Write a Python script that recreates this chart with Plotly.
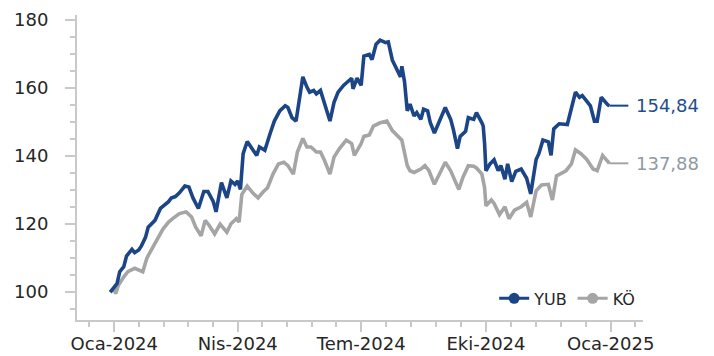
import plotly.graph_objects as go
import pandas as pd

# ---------------- data ----------------
yub_dates = [
    "2023-12-29", "2024-01-02", "2024-01-03", "2024-01-05", "2024-01-08", "2024-01-10",
    "2024-01-14", "2024-01-16", "2024-01-19", "2024-01-21", "2024-01-24", "2024-01-26",
    "2024-01-29", "2024-01-31", "2024-02-04", "2024-02-07", "2024-02-10", "2024-02-12",
    "2024-02-15", "2024-02-18", "2024-02-22", "2024-02-25", "2024-02-28", "2024-03-03",
    "2024-03-07", "2024-03-10", "2024-03-14", "2024-03-16", "2024-03-20", "2024-03-24",
    "2024-03-27", "2024-03-30", "2024-04-01", "2024-04-03", "2024-04-05", "2024-04-08",
    "2024-04-11", "2024-04-15", "2024-04-17", "2024-04-21", "2024-04-25", "2024-04-28",
    "2024-05-02", "2024-05-06", "2024-05-08", "2024-05-11", "2024-05-14", "2024-05-17",
    "2024-05-19", "2024-05-22", "2024-05-24", "2024-05-27", "2024-05-29", "2024-06-01",
    "2024-06-03", "2024-06-06", "2024-06-08", "2024-06-11", "2024-06-14", "2024-06-18",
    "2024-06-22", "2024-06-24", "2024-06-25", "2024-06-28", "2024-07-01", "2024-07-03",
    "2024-07-07", "2024-07-09", "2024-07-12", "2024-07-15", "2024-07-19", "2024-07-21",
    "2024-07-24", "2024-07-27", "2024-07-30", "2024-07-31", "2024-08-02", "2024-08-04",
    "2024-08-06", "2024-08-09", "2024-08-11", "2024-08-14", "2024-08-16", "2024-08-19",
    "2024-08-21", "2024-08-24", "2024-08-27", "2024-09-01", "2024-09-05", "2024-09-07",
    "2024-09-10", "2024-09-12", "2024-09-16", "2024-09-18", "2024-09-22", "2024-09-24",
    "2024-09-28", "2024-09-29", "2024-09-30", "2024-10-01", "2024-10-04", "2024-10-07",
    "2024-10-10", "2024-10-12", "2024-10-15", "2024-10-17", "2024-10-20", "2024-10-23",
    "2024-10-27", "2024-10-31", "2024-11-03", "2024-11-07", "2024-11-09", "2024-11-12",
    "2024-11-16", "2024-11-18", "2024-11-20", "2024-11-24", "2024-11-30", "2024-12-03",
    "2024-12-06", "2024-12-09", "2024-12-11", "2024-12-14", "2024-12-17", "2024-12-20",
    "2024-12-22", "2024-12-25", "2024-12-27", "2024-12-30", "2024-12-31",
]
yub_values = [
    100.0, 102.3, 102.5, 106.0, 107.5, 110.6,
    112.6, 111.6, 112.4, 113.6, 116.1, 119.1,
    120.1, 121.1, 124.6, 125.6, 126.6, 127.7,
    128.1, 129.2, 131.2, 130.9, 127.7, 124.6,
    129.6, 129.6, 126.6, 123.6, 132.2, 127.7,
    132.7, 131.7, 132.7, 130.2, 140.7, 144.3,
    142.7, 140.2, 142.7, 141.7, 146.8, 150.3,
    153.3, 154.8, 154.3, 151.3, 150.3, 158.8,
    163.3, 160.3, 158.8, 159.3, 158.3, 159.3,
    156.8, 152.8, 150.3, 155.8, 158.8, 160.8,
    162.4, 162.9, 159.8, 162.9, 160.8, 169.4,
    169.9, 168.4, 172.9, 174.1, 173.4, 173.6,
    168.2, 165.9, 163.3, 166.4, 161.8, 153.3,
    155.3, 151.8, 152.8, 150.8, 153.8, 153.3,
    149.8, 146.8, 149.8, 154.3, 150.8, 147.8,
    142.2, 145.8, 147.3, 151.3, 150.8, 152.8,
    149.8, 148.8, 143.7, 135.7, 137.7, 138.9,
    135.7, 137.2, 133.2, 137.7, 132.5, 135.5,
    136.2, 133.5, 128.9, 139.0, 140.7, 144.7,
    144.2, 140.2, 148.0, 149.5, 149.3, 153.8,
    158.8, 157.3, 157.8, 156.3, 154.8, 150.3,
    150.3, 157.3, 156.3, 155.0, 154.84,
]

ko_dates = [
    "2023-12-29", "2024-01-01", "2024-01-02", "2024-01-04", "2024-01-08", "2024-01-11",
    "2024-01-16", "2024-01-20", "2024-01-22", "2024-01-25", "2024-01-29", "2024-02-01",
    "2024-02-06", "2024-02-10", "2024-02-13", "2024-02-18", "2024-02-23", "2024-02-27",
    "2024-03-01", "2024-03-05", "2024-03-08", "2024-03-11", "2024-03-15", "2024-03-19",
    "2024-03-24", "2024-03-27", "2024-03-31", "2024-04-02", "2024-04-04", "2024-04-08",
    "2024-04-12", "2024-04-16", "2024-04-20", "2024-04-23", "2024-04-27", "2024-05-01",
    "2024-05-05", "2024-05-08", "2024-05-12", "2024-05-15", "2024-05-19", "2024-05-22",
    "2024-05-25", "2024-05-29", "2024-06-01", "2024-06-04", "2024-06-08", "2024-06-11",
    "2024-06-15", "2024-06-20", "2024-06-24", "2024-06-26", "2024-07-01", "2024-07-03",
    "2024-07-07", "2024-07-10", "2024-07-15", "2024-07-20", "2024-07-24", "2024-07-28",
    "2024-07-31", "2024-08-04", "2024-08-06", "2024-08-09", "2024-08-14", "2024-08-17",
    "2024-08-20", "2024-08-24", "2024-08-28", "2024-09-01", "2024-09-05", "2024-09-08",
    "2024-09-11", "2024-09-14", "2024-09-18", "2024-09-22", "2024-09-24", "2024-09-28",
    "2024-09-30", "2024-10-01", "2024-10-05", "2024-10-07", "2024-10-11", "2024-10-15",
    "2024-10-18", "2024-10-22", "2024-10-27", "2024-10-31", "2024-11-03", "2024-11-07",
    "2024-11-11", "2024-11-16", "2024-11-19", "2024-11-22", "2024-11-29", "2024-12-03",
    "2024-12-06", "2024-12-10", "2024-12-14", "2024-12-19", "2024-12-22", "2024-12-26",
    "2024-12-30", "2024-12-31",
]
ko_values = [
    100.0, 101.0, 99.5, 102.0, 104.5, 106.0,
    107.0, 106.5, 106.0, 110.0, 113.1, 115.1,
    118.6, 120.6, 121.6, 123.1, 123.6, 122.1,
    119.1, 116.6, 121.1, 119.6, 117.1, 120.0,
    117.6, 120.1, 121.6, 120.6, 128.7, 131.2,
    129.2, 127.7, 129.6, 130.7, 134.7, 137.7,
    138.2, 137.2, 134.7, 141.2, 145.2, 142.7,
    142.7, 141.2, 141.2, 138.7, 134.7, 139.7,
    142.2, 144.7, 143.7, 140.2, 143.7, 145.8,
    146.2, 148.8, 149.8, 150.3, 147.5, 146.0,
    144.7, 137.2, 135.7, 135.2, 136.2, 137.2,
    135.7, 131.7, 134.7, 138.2, 135.7, 133.2,
    130.2, 133.7, 137.2, 137.0, 136.5, 134.7,
    130.7, 125.4, 127.1, 126.1, 122.8, 125.1,
    121.6, 124.1, 125.1, 126.4, 122.1, 129.8,
    131.5, 131.7, 127.1, 134.2, 135.7, 137.7,
    141.8, 140.7, 139.2, 136.2, 135.7, 140.2,
    138.2, 137.88,
]

series_names = ["YUB", "KÖ"]
series_colors = ["#1b4586", "#a5a5a5"]
label_colors = ["#1f4e8c", "#8f99a3"]

x_tick_dates = ["2024-01-01", "2024-04-01", "2024-07-01", "2024-10-01", "2025-01-01"]
x_tick_labels = ["Oca-2024", "Nis-2024", "Tem-2024", "Eki-2024", "Oca-2025"]
quarter_bounds = ["2023-10-01", "2024-01-01", "2024-04-01", "2024-07-01",
                  "2024-10-01", "2025-01-01", "2025-04-01"]
y_tick_values = [100, 120, 140, 160, 180]
x_range = ["2023-12-04 12:00", "2025-01-24 19:00"]
y_range = [91.8, 181.5]
leader_end_date = "2025-01-14"

# minor x ticks: each quarter split into five
minor_x = []
qb = pd.to_datetime(quarter_bounds)
for a, b in zip(qb[:-1], qb[1:]):
    for k in range(1, 5):
        minor_x.append(a + (b - a) * k / 5)
lo, hi = pd.Timestamp(x_range[0]), pd.Timestamp(x_range[1])
minor_x = [d.strftime("%Y-%m-%d %H:%M") for d in minor_x if lo <= d <= hi]

AXIS_COLOR = "#c9c9c9"
FONT = "DejaVu Sans"

fig = go.Figure()
all_dates = [yub_dates, ko_dates]
all_vals = [yub_values, ko_values]

# draw gray first so blue sits on top
for i in [1, 0]:
    d, v = all_dates[i], all_vals[i]
    fig.add_trace(go.Scatter(
        x=d, y=v, mode="lines", showlegend=False,
        line=dict(color=series_colors[i], width=3.6, shape="linear"),
        hoverinfo="skip",
    ))
    # leader line to the end label
    fig.add_trace(go.Scatter(
        x=[d[-1], leader_end_date], y=[v[-1], v[-1]], mode="lines",
        showlegend=False, line=dict(color=series_colors[i], width=2),
        hoverinfo="skip",
    ))
    fig.add_annotation(
        x=leader_end_date, y=v[-1], xref="x", yref="y",
        text=f"{v[-1]:.2f}".replace(".", ","), showarrow=False,
        xanchor="left", yanchor="middle", xshift=6,
        font=dict(family=FONT, size=18, color=label_colors[i]),
    )

# legend entries (line + marker symbols)
for i in [0, 1]:
    fig.add_trace(go.Scatter(
        x=[None], y=[None], mode="lines+markers", name=series_names[i],
        line=dict(color=series_colors[i], width=3),
        marker=dict(color=series_colors[i], size=11, symbol="circle"),
    ))

# page body has an 8px margin, so the figure is sized/offset to compensate
fig.update_layout(
    width=706, height=348,
    margin=dict(l=69, r=71, t=7, b=36, autoexpand=False),
    paper_bgcolor="white", plot_bgcolor="white",
    font=dict(family=FONT, size=18, color="#262626"),
    showlegend=True,
    legend=dict(
        orientation="h", x=0.995, xanchor="right", y=0.015, yanchor="bottom",
        bgcolor="rgba(255,255,255,1)", font=dict(family=FONT, size=16, color="#262626"),
        itemwidth=30, tracegroupgap=0, borderwidth=0,
    ),
    xaxis=dict(
        type="date", range=x_range, automargin=False,
        tickmode="array", tickvals=x_tick_dates, ticktext=x_tick_labels,
        showgrid=False, zeroline=False,
        showline=True, linecolor=AXIS_COLOR, linewidth=2,
        ticks="outside", ticklen=10, tickwidth=2, tickcolor=AXIS_COLOR,
        tickfont=dict(family=FONT, size=18, color="#262626"),
        ticklabelstandoff=-4,
        minor=dict(tickmode="array", tickvals=minor_x, ticks="outside",
                   ticklen=5, tickwidth=2, tickcolor=AXIS_COLOR, showgrid=False),
    ),
    yaxis=dict(
        range=y_range, tickmode="array", tickvals=y_tick_values, automargin=False,
        showgrid=False, zeroline=False,
        showline=True, linecolor=AXIS_COLOR, linewidth=2,
        ticks="outside", ticklen=10, tickwidth=2, tickcolor=AXIS_COLOR,
        tickfont=dict(family=FONT, size=18, color="#262626"),
        ticklabelstandoff=13,
        minor=dict(dtick=5, ticks="outside", ticklen=5, tickwidth=2,
                   tickcolor=AXIS_COLOR, showgrid=False),
    ),
)

fig.write_html("out.html")
